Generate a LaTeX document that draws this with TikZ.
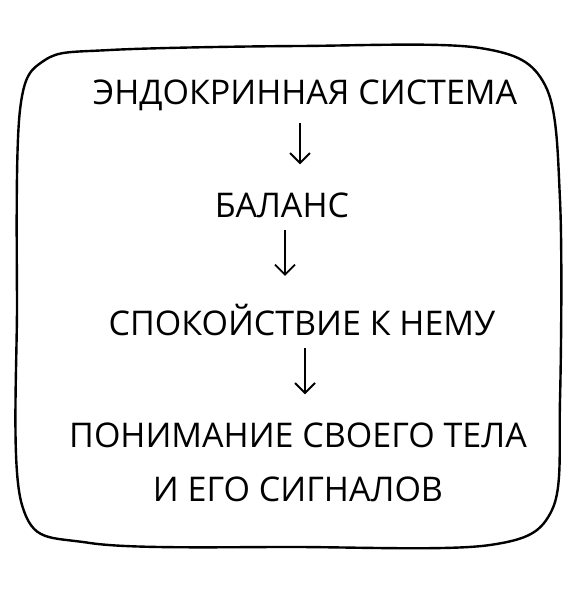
\documentclass[tikz,border=0pt]{standalone}
\usepackage{fontspec}
\setmainfont{Open Sans}
\usetikzlibrary{arrows.meta, positioning}
\tikzset{
  stepbox/.style={inner sep=0pt, align=center, font=\fontsize{34}{54}\selectfont},
  flow/.style={-{Straight Barb[length=10pt,width=20pt]}, line width=1.8pt, shorten <=12pt, shorten >=28pt}
}
\begin{document}
\begin{tikzpicture}[x=1pt, y=-1pt]
  % canvas: 579 x 600 px
  \useasboundingbox (0,0) rectangle (579,600);

  % hand-drawn frame
  \draw[line width=2.4pt, line join=round]
    plot[smooth cycle, tension=0.55] coordinates {
      (110,50) (300,46) (480,48) (545,85) (560,200) (560,400)
      (552,510) (490,545) (300,547) (90,543) (22,505) (17,300)
      (20,110) (45,60)};

  % steps
  \node[stepbox] (endo) at (305,95)  {ЭНДОКРИННАЯ СИСТЕМА};
  \node[stepbox] (bal)  at (282,205) {БАЛАНС};
  \node[stepbox] (calm) at (302,320) {СПОКОЙСТВИЕ К НЕМУ};
  \node[stepbox] (body) at (298,462) {ПОНИМАНИЕ СВОЕГО ТЕЛА\\И ЕГО СИГНАЛОВ};

  % arrows
  \draw[flow] ([xshift=-5pt]endo.south) -- ([xshift=-5pt]endo.south |- bal.north);
  \draw[flow] ([xshift=3pt]bal.south) -- ([xshift=3pt]bal.south |- calm.north);
  \draw[flow] ([xshift=3pt]calm.south) -- ([xshift=3pt]calm.south |- body.north);
\end{tikzpicture}
\end{document}
